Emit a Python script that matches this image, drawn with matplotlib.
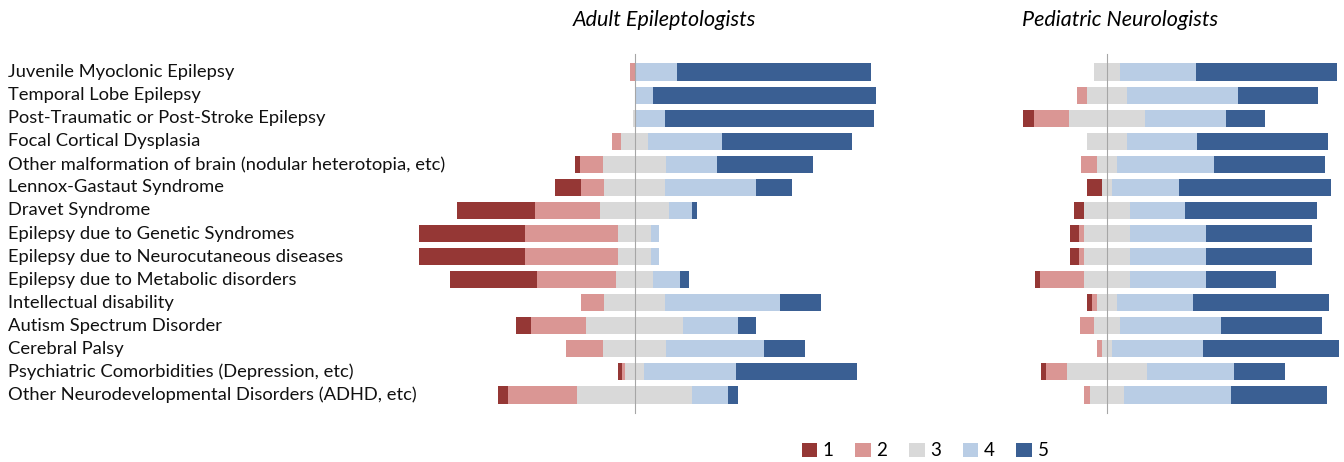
import numpy as np
import matplotlib.pyplot as plt

categories = ["Juvenile Myoclonic Epilepsy", "Temporal Lobe Epilepsy",
              "Post-Traumatic or Post-Stroke Epilepsy", "Focal Cortical Dysplasia",
              "Other malformation of brain (nodular heterotopia, etc)",
              "Lennox-Gastaut Syndrome", "Dravet Syndrome",
              "Epilepsy due to Genetic Syndromes", "Epilepsy due to Neurocutaneous diseases",
              "Epilepsy due to Metabolic disorders", "Intellectual disability",
              "Autism Spectrum Disorder", "Cerebral Palsy",
              "Psychiatric Comorbidities (Depression, etc)",
              "Other Neurodevelopmental Disorders (ADHD, etc)"]

# percentages for answers 1..5, adult epileptologists
adult_1 = [0, 0, 0, 0, 2, 11, 32.5, 44, 44, 36, 0, 6, 0, 1.5, 4]
adult_2 = [2, 0, 0, 3.7, 9.5, 9.5, 27, 38.5, 38.5, 33, 9.5, 23, 15, 1.5, 28.5]
adult_3 = [0, 0, 1, 11.5, 26.5, 25, 28.5, 13.5, 13.5, 15, 25, 40, 26.5, 7.5, 48]
adult_4 = [17.5, 7.5, 12, 30.7, 21, 38, 9.5, 3.5, 3.5, 11.5, 48, 23, 40.5, 38.5, 15]
adult_5 = [80.5, 92.5, 87, 54, 40, 15, 2, 0, 0, 3.7, 17, 7.5, 17, 50, 4]

# pediatric neurologists
ped_1 = [0, 0, 4.5, 0, 0, 6, 4, 4, 4, 2, 2, 0, 0, 2, 0]
ped_2 = [0, 4, 14.5, 0, 6.5, 0, 0, 2, 2, 18.5, 2, 6, 2, 8.5, 2.5]
ped_3 = [10.5, 16.5, 31.5, 16.5, 8.5, 4.5, 19, 19, 19, 19, 8.5, 10.5, 4.5, 33.5, 14.5]
ped_4 = [31.5, 46, 33.5, 29, 40, 27.5, 23, 31.5, 31.5, 31.5, 31.5, 42, 37.5, 36, 44]
ped_5 = [58.5, 33.5, 16.5, 54.5, 46, 63, 54.5, 44, 44, 29, 56.5, 42, 56.5, 21, 40]

levels = ["1", "2", "3", "4", "5"]
colors = ["#953735", "#DA9694", "#D9D9D9", "#B9CDE5", "#3A5F93"]

W, H = 1344, 462
fig = plt.figure(figsize=(W / 100, H / 100), dpi=100)

bottom = 1 - 406.5 / H
height = (406.5 - 60.5) / H
scale = 2.41  # px per percent


def draw(ax, parts, center_px, left_px, right_px):
    parts = [np.array(p, dtype=float) for p in parts]
    y = np.arange(len(categories))
    start = -(parts[0] + parts[1] + parts[2] / 2)
    for p, c, lab in zip(parts, colors, levels):
        ax.barh(y, p, left=start, height=0.74, color=c, label=lab)
        start = start + p
    ax.set_xlim((left_px - center_px) / scale, (right_px - center_px) / scale)
    ax.set_ylim(len(categories) - 0.5, -0.5)
    ax.axvline(0, color="#A6A6A6", lw=0.8, ymin=-0.02, ymax=1.02, clip_on=False)
    ax.axis("off")


ax1 = fig.add_axes([410 / W, bottom, (885 - 410) / W, height])
draw(ax1, [adult_1, adult_2, adult_3, adult_4, adult_5], 634.5, 410, 885)
ax2 = fig.add_axes([1015 / W, bottom, (1344 - 1015) / W, height])
draw(ax2, [ped_1, ped_2, ped_3, ped_4, ped_5], 1107, 1015, 1344)

for i, name in enumerate(categories):
    ypx = 72 + i * (395 - 72) / 14
    fig.text(8 / W, 1 - ypx / H, name, ha="left", va="center",
             fontsize=13.2, family="Lato", color="#111111")

fig.text(664 / W, 1 - 20 / H, "Adult Epileptologists", ha="center", va="center",
         fontsize=15.5, family="Lato", style="italic")
fig.text(1120 / W, 1 - 20 / H, "Pediatric Neurologists", ha="center", va="center",
         fontsize=15.5, family="Lato", style="italic")

handles, labels = ax1.get_legend_handles_labels()
fig.legend(handles, labels, loc="center", bbox_to_anchor=(925 / W, 1 - 451 / H),
           ncol=5, frameon=False, handlelength=0.83, handleheight=0.83,
           handletextpad=0.3, columnspacing=1.15, prop={"family": "Lato", "size": 13.5})

fig.savefig("out.png", dpi=100)
